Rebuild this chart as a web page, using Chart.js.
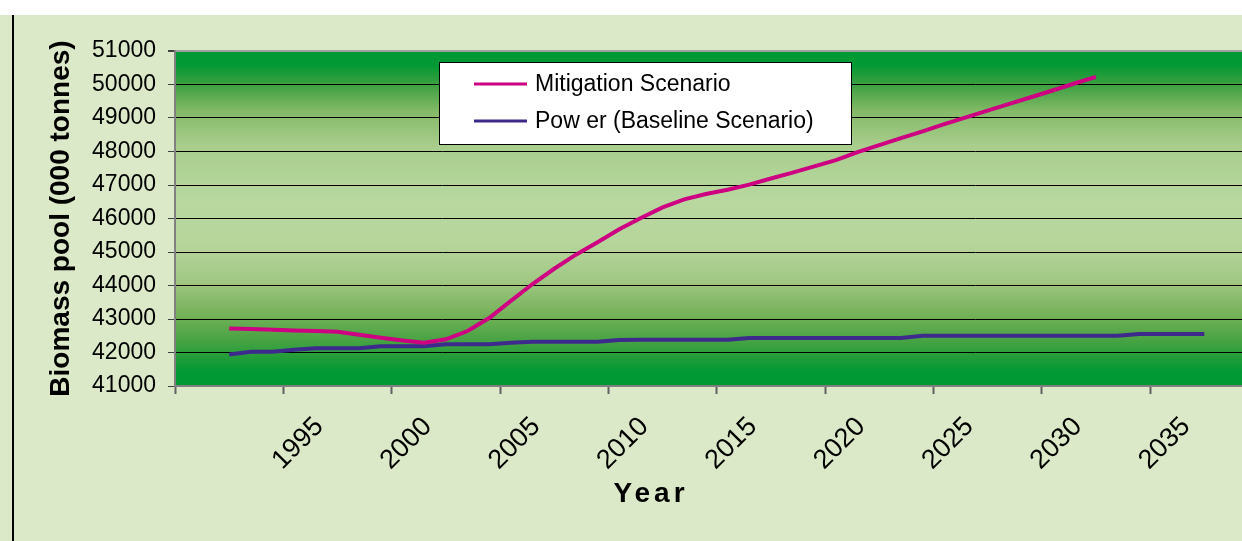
<!DOCTYPE html>
<html>
<head>
<meta charset="utf-8">
<script src="https://cdn.jsdelivr.net/npm/chart.js@4.4.1/dist/chart.umd.min.js"></script>
<style>
  html, body { margin: 0; padding: 0; background: #fff; }
  #wrap { width: 1242px; height: 541px; position: relative; }
</style>
</head>
<body>
<div id="wrap"><canvas id="biomassChart"></canvas></div>
<script>
// Years of each series
const mitigationYears = [];
for (let y = 1992; y <= 2032; y++) mitigationYears.push(y);
const baselineYears = [];
for (let y = 1992; y <= 2037; y++) baselineYears.push(y);

// Biomass pool (000 tonnes)
const mitigation = [
  42720, 42700, 42680, 42660, 42640, 42620, 42530, 42440, 42355, 42290,
  42395, 42640, 43030, 43540, 44045, 44500, 44920, 45290, 45680, 46015,
  46330, 46570, 46730, 46860, 47010, 47195, 47370, 47555, 47740, 47980,
  48190, 48400, 48600, 48820, 49020, 49220, 49420, 49620, 49820, 50030,
  50230
];
const baseline = [
  41940, 42020, 42020, 42080, 42130, 42130, 42130, 42190, 42190, 42190,
  42245, 42245, 42245, 42290, 42320, 42320, 42320, 42320, 42370, 42380,
  42380, 42380, 42380, 42380, 42430, 42430, 42430, 42430, 42430, 42430,
  42430, 42430, 42500, 42500, 42500, 42500, 42500, 42500, 42500, 42500,
  42500, 42500, 42550, 42550, 42550, 42550
];

// x axis: tick marks sit between years, labels on the year
const tickYears = [1990, 1995, 2000, 2005, 2010, 2015, 2020, 2025, 2030, 2035];
const tickLabels = ["", "1995", "2000", "2005", "2010", "2015", "2020", "2025", "2030", "2035"];

const FONT = "'Liberation Sans', Arial, sans-serif";

function toPoints(years, values) {
  return years.map((yr, i) => ({ x: yr, y: values[i] }));
}

// page background, plot gradient, "Year" title, legend box
const decor = {
  id: "decor",
  beforeDraw(chart) {
    const { ctx, chartArea: a, width, height } = chart;
    ctx.save();
    ctx.fillStyle = "#ffffff";
    ctx.fillRect(0, 0, width, height);
    ctx.fillStyle = "#dbe9c8";
    ctx.fillRect(0, 15, width, height - 15);
    ctx.fillStyle = "#000";
    ctx.fillRect(12, 15, 2, height - 15);

    const g = ctx.createLinearGradient(0, a.top, 0, a.bottom);
    g.addColorStop(0.00, "#009933");
    g.addColorStop(0.04, "#009933");
    g.addColorStop(0.10, "#3c9f40");
    g.addColorStop(0.18, "#84ba68");
    g.addColorStop(0.28, "#a8cd8c");
    g.addColorStop(0.45, "#b8d8a0");
    g.addColorStop(0.58, "#b5d59b");
    g.addColorStop(0.68, "#a2c986");
    g.addColorStop(0.78, "#78b35b");
    g.addColorStop(0.86, "#4aa444");
    g.addColorStop(0.92, "#1e9c38");
    g.addColorStop(0.96, "#009933");
    g.addColorStop(1.00, "#009933");
    ctx.fillStyle = g;
    ctx.fillRect(a.left, a.top, a.right - a.left, a.bottom - a.top);
    ctx.restore();
  },
  afterDraw(chart) {
    const { ctx } = chart;
    ctx.save();
    // x title
    ctx.font = "bold 28px " + FONT;
    ctx.fillStyle = "#000";
    ctx.textAlign = "center";
    ctx.textBaseline = "alphabetic";
    ctx.letterSpacing = "4px";
    ctx.fillText("Year", 651, 502);
    ctx.letterSpacing = "0px";

    // legend
    const bx = 439, by = 62, bw = 412, bh = 82;
    ctx.fillStyle = "#fff";
    ctx.fillRect(bx, by, bw, bh);
    ctx.strokeStyle = "#000";
    ctx.lineWidth = 1;
    ctx.strokeRect(bx + 0.5, by + 0.5, bw, bh);
    ctx.font = "23px " + FONT;
    ctx.textAlign = "left";
    ctx.textBaseline = "middle";
    const rows = [84, 121];
    chart.data.datasets.forEach((ds, i) => {
      ctx.strokeStyle = ds.borderColor;
      ctx.lineWidth = 3;
      ctx.beginPath();
      ctx.moveTo(474, rows[i]);
      ctx.lineTo(527, rows[i]);
      ctx.stroke();
      ctx.fillStyle = "#000";
      ctx.fillText(ds.label, 535, rows[i] + 1);
    });
    ctx.restore();
  }
};

new Chart(document.getElementById("biomassChart"), {
  type: "line",
  data: {
    datasets: [
      {
        label: "Mitigation Scenario",
        data: toPoints(mitigationYears, mitigation),
        borderColor: "#cc0080",
        borderWidth: 4,
        pointRadius: 0,
        tension: 0,
        fill: false
      },
      {
        label: "Pow er (Baseline Scenario)",
        data: toPoints(baselineYears, baseline),
        borderColor: "#3d2a8c",
        borderWidth: 4,
        pointRadius: 0,
        tension: 0,
        fill: false
      }
    ]
  },
  options: {
    responsive: true,
    maintainAspectRatio: false,
    animation: false,
    layout: { padding: { top: 51, left: 0, right: 0, bottom: 0 } },
    plugins: {
      legend: { display: false },
      tooltip: { enabled: false }
    },
    scales: {
      x: {
        type: "linear",
        min: 1989.5,
        max: 2038.74,
        afterBuildTicks: (scale) => {
          scale.ticks = tickYears.map((y) => ({ value: y - 0.5 }));
        },
        afterFit: (scale) => { scale.height = 155; },
        border: { color: "#808080", width: 2 },
        grid: {
          drawOnChartArea: false,
          drawTicks: true,
          tickLength: 8,
          tickColor: "#606060",
          tickWidth: 2
        },
        ticks: {
          autoSkip: false,
          minRotation: 45,
          maxRotation: 45,
          padding: 17,
          labelOffset: 36,
          color: "#000",
          font: { family: FONT, size: 27 },
          callback: (value, index) => tickLabels[index]
        }
      },
      y: {
        min: 41000,
        max: 51000,
        afterFit: (scale) => { scale.width = 175; },
        border: { color: "#808080", width: 2 },
        grid: {
          color: (c) => (c.tick && c.tick.value === 51000 ? "#a0a0a0" : "#000"),
          lineWidth: (c) => (c.tick && c.tick.value === 51000 ? 2 : 1),
          tickColor: "#404040",
          tickLength: 7
        },
        ticks: {
          stepSize: 1000,
          padding: 12,
          color: "#000",
          font: { family: FONT, size: 23 },
          callback: (v) => String(v)
        },
        title: {
          display: true,
          text: "Biomass pool (000 tonnes)",
          color: "#000",
          font: { family: FONT, size: 28, weight: "bold" },
          padding: { top: 44, bottom: 0 }
        }
      }
    }
  },
  plugins: [decor]
});
</script>
</body>
</html>
